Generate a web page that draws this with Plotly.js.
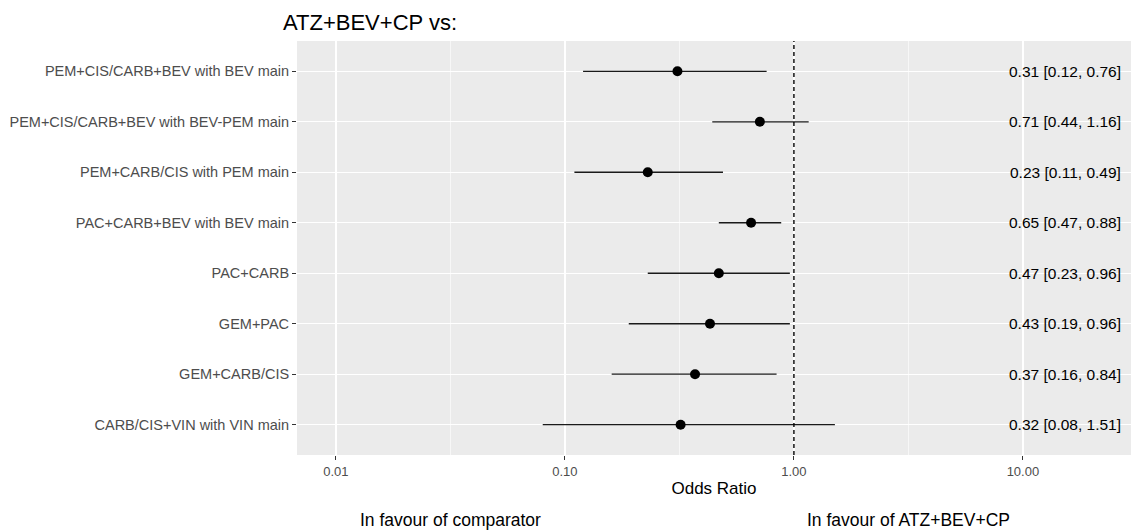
<!DOCTYPE html>
<html>
<head>
<meta charset="utf-8">
<script src="https://cdn.plot.ly/plotly-3.0.1.min.js"></script>
<style>html,body{margin:0;padding:0;background:#fff;}#chart{width:1134px;height:530px;}</style>
</head>
<body>
<div id="chart"></div>
<script>
const comparators = [
  "PEM+CIS/CARB+BEV with BEV main",
  "PEM+CIS/CARB+BEV with BEV-PEM main",
  "PEM+CARB/CIS with PEM main",
  "PAC+CARB+BEV with BEV main",
  "PAC+CARB",
  "GEM+PAC",
  "GEM+CARB/CIS",
  "CARB/CIS+VIN with VIN main"
];
const oddsRatio = [0.31, 0.71, 0.23, 0.65, 0.47, 0.43, 0.37, 0.32];
const lowerCI   = [0.12, 0.44, 0.11, 0.47, 0.23, 0.19, 0.16, 0.08];
const upperCI   = [0.76, 1.16, 0.49, 0.88, 0.96, 0.96, 0.84, 1.51];
const xTickVals = [0.01, 0.1, 1, 10];
const xTickText = ["0.01", "0.10", "1.00", "10.00"];
const xMinorVals = [0.0316, 0.316, 3.16];

const FONT = "Liberation Sans, Arial, sans-serif";

const trace = {
  type: "scatter",
  mode: "markers",
  x: oddsRatio,
  y: comparators,
  marker: {color: "#000000", size: 10},
  error_x: {
    type: "data",
    symmetric: false,
    array: oddsRatio.map((v, i) => upperCI[i] - v),
    arrayminus: oddsRatio.map((v, i) => v - lowerCI[i]),
    color: "#1a1a1a",
    thickness: 1.3,
    width: 0
  },
  hoverinfo: "skip",
  showlegend: false
};

const fmt = v => v.toFixed(2);
const annotations = comparators.map((c, i) => ({
  xref: "paper", yref: "y",
  x: 0.991, y: c,
  xanchor: "right", yanchor: "middle",
  text: fmt(oddsRatio[i]) + " [" + fmt(lowerCI[i]) + ", " + fmt(upperCI[i]) + "]",
  showarrow: false,
  font: {family: FONT, size: 15.5, color: "#000000"}
}));
annotations.push({
  xref: "paper", yref: "paper", x: 0.1835, y: -0.157,
  xanchor: "center", yanchor: "middle",
  text: "In favour of comparator", showarrow: false,
  font: {family: FONT, size: 17.5, color: "#000000"}
});
annotations.push({
  xref: "paper", yref: "paper", x: 0.733, y: -0.157,
  xanchor: "center", yanchor: "middle",
  text: "In favour of ATZ+BEV+CP", showarrow: false,
  font: {family: FONT, size: 17.5, color: "#000000"}
});

const layout = {
  width: 1134, height: 530,
  margin: {l: 297, r: 3, t: 41, b: 75},
  paper_bgcolor: "#ffffff",
  plot_bgcolor: "#ebebeb",
  font: {family: FONT},
  title: {
    text: "ATZ+BEV+CP vs:",
    xref: "container", yref: "container",
    x: 283 / 1134, xanchor: "left",
    y: 1 - 22 / 530, yanchor: "middle",
    font: {family: FONT, size: 22, color: "#000000"}
  },
  xaxis: {
    type: "log",
    range: [-2.170, 1.472],
    tickmode: "array",
    tickvals: xTickVals,
    ticktext: xTickText,
    ticks: "outside", ticklen: 4, tickwidth: 1, tickcolor: "#333333",
    tickfont: {family: FONT, size: 13, color: "#4d4d4d"},
    showgrid: true, gridcolor: "#ffffff", gridwidth: 1.2,
    minor: {tickmode: "array", tickvals: xMinorVals, showgrid: true, gridcolor: "#ffffff", gridwidth: 0.6, ticks: ""},
    zeroline: false, showline: false,
    title: {text: "Odds Ratio", standoff: 4, font: {family: FONT, size: 17, color: "#000000"}}
  },
  yaxis: {
    type: "category",
    categoryorder: "array",
    categoryarray: comparators,
    range: [7.6, -0.6],
    ticks: "outside", ticklen: 4, tickwidth: 1, tickcolor: "#333333",
    tickfont: {family: FONT, size: 14.5, color: "#4d4d4d"},
    showgrid: true, gridcolor: "#ffffff", gridwidth: 1.2,
    zeroline: false, showline: false
  },
  shapes: [{
    type: "line", xref: "x", yref: "paper",
    x0: 1, x1: 1, y0: 0, y1: 1,
    line: {color: "#000000", width: 1.4, dash: "4px,3px"}
  }],
  annotations: annotations
};

Plotly.newPlot("chart", [trace], layout, {displayModeBar: false, staticPlot: true});
</script>
</body>
</html>
